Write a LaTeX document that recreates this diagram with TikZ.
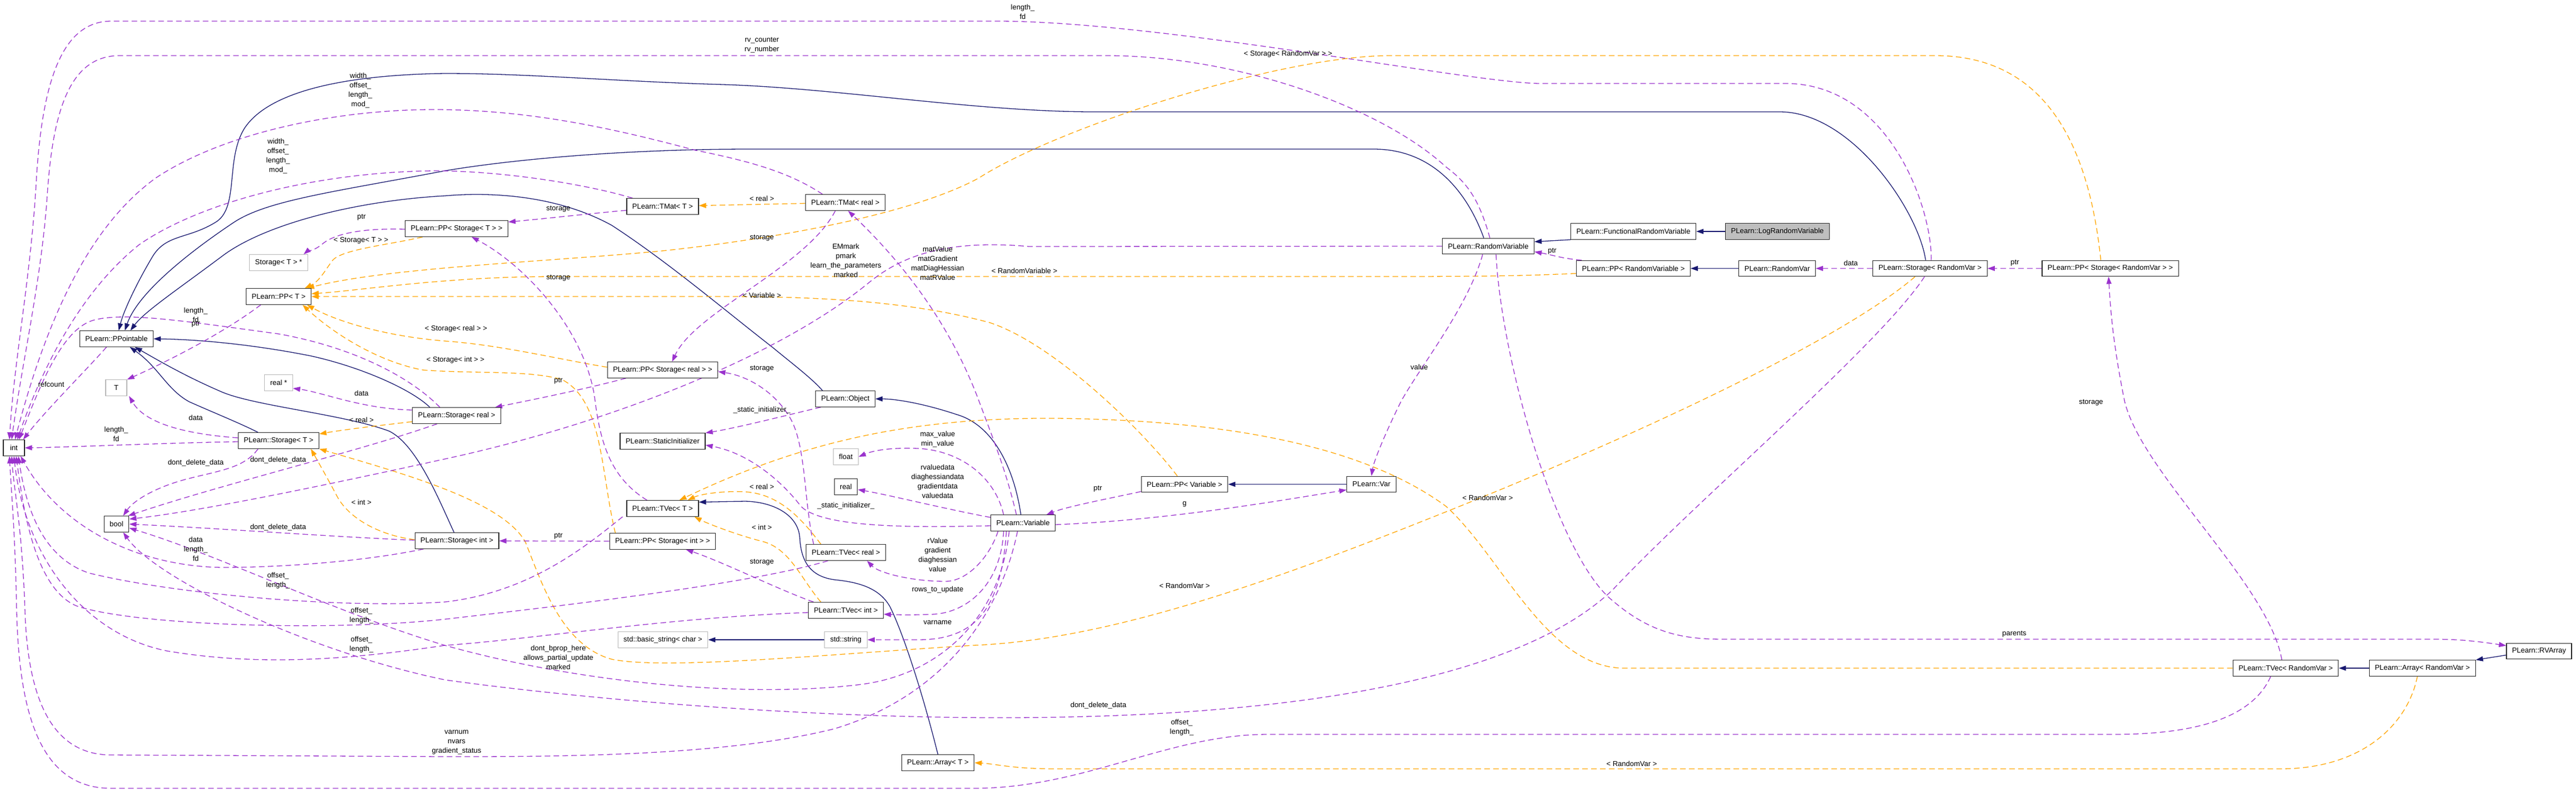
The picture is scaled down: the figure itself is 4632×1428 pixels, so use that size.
\documentclass[tikz,border=0pt]{standalone}
\usepackage{fontspec}
\newfontfamily\dotfont{Liberation Sans}
\usetikzlibrary{arrows.meta,backgrounds}
\definecolor{inhblue}{HTML}{191970}
\definecolor{usepurple}{HTML}{9A32CD}
\definecolor{tplorange}{HTML}{FFA500}
\tikzset{
  cls/.style={draw=black!85, line width=1.2pt, fill=white, minimum height=28.5pt, minimum width=38pt, inner xsep=10pt, inner ysep=2pt, font=\dotfont\fontsize{13}{16}\selectfont},
  undoc/.style={cls, draw=black!28},
  focus/.style={cls, fill=black!25},
  lbl/.style={font=\dotfont\fontsize{13}{17}\selectfont, align=center, inner sep=0pt},
  inherit/.style={draw=inhblue, line width=1.3pt, -{Triangle[length=13pt,width=9pt]}},
  usage/.style={draw=usepurple, line width=1.3pt, dash pattern=on 10pt off 6pt, -{Triangle[length=13pt,width=9pt]}},
  templ/.style={draw=tplorange, line width=1.3pt, dash pattern=on 10pt off 6pt, -{Triangle[length=13pt,width=9pt]}}
}
\begin{document}
\begin{tikzpicture}[x=1pt,y=-1pt]
\useasboundingbox (0,0) rectangle (4632,1428);

\node[cls] (int) at (25,805) {int};
\node[cls] (bool) at (209.5,942) {bool};
\node[cls] (ppointable) at (209.5,609) {PLearn::PPointable};
\node[undoc] (tT) at (209,697) {T};
\node[undoc] (storTp) at (501,472) {Storage< T > *};
\node[cls] (ppT) at (501,533) {PLearn::PP< T >};
\node[undoc] (realp) at (501,688) {real *};
\node[cls] (storT) at (501,792) {PLearn::Storage< T >};
\node[cls] (storReal) at (821,747) {PLearn::Storage< real >};
\node[cls] (storInt) at (821.5,972) {PLearn::Storage< int >};
\node[cls] (ppStorT) at (821,411) {PLearn::PP< Storage< T > >};
\node[cls] (tmatT) at (1191.5,371) {PLearn::TMat< T >};
\node[cls] (tmatReal) at (1520,364) {PLearn::TMat< real >};
\node[cls] (ppStorReal) at (1191.5,665) {PLearn::PP< Storage< real > >};
\node[cls] (object) at (1520,717) {PLearn::Object};
\node[cls] (statInit) at (1191.5,793) {PLearn::StaticInitializer};
\node[undoc] (float) at (1521,821) {float};
\node[cls] (real) at (1521,875) {real};
\node[cls] (tvecT) at (1191.5,914) {PLearn::TVec< T >};
\node[cls] (ppStorInt) at (1191.5,973) {PLearn::PP< Storage< int > >};
\node[cls] (tvecReal) at (1521,993) {PLearn::TVec< real >};
\node[cls] (tvecInt) at (1521,1097) {PLearn::TVec< int >};
\node[undoc] (basicStr) at (1192,1150) {std::basic\_string< char >};
\node[undoc] (stdStr) at (1521,1150) {std::string};
\node[cls] (arrayT) at (1686.5,1371) {PLearn::Array< T >};
\node[cls] (variable) at (1839.6,940) {PLearn::Variable};
\node[cls] (ppVariable) at (2130,870.5) {PLearn::PP< Variable >};
\node[cls] (var) at (2466,870.5) {PLearn::Var};
\node[cls] (randVariable) at (2676,442.5) {PLearn::RandomVariable};
\node[cls] (funcRV) at (2937,416) {PLearn::FunctionalRandomVariable};
\node[focus] (logRV) at (3196,416) {PLearn::LogRandomVariable};
\node[cls] (ppRV) at (2937,482.5) {PLearn::PP< RandomVariable >};
\node[cls] (randVar) at (3195.6,482.5) {PLearn::RandomVar};
\node[cls] (storRV) at (3470.5,482.5) {PLearn::Storage< RandomVar >};
\node[cls] (ppStorRV) at (3794.5,482.5) {PLearn::PP< Storage< RandomVar > >};
\node[cls] (rvArray) at (4565.5,1170.5) {PLearn::RVArray};
\node[cls] (tvecRV) at (4110,1201) {PLearn::TVec< RandomVar >};
\node[cls] (arrayRV) at (4355.7,1201) {PLearn::Array< RandomVar >};

\begin{pgfonlayer}{background}
\draw[inherit] (logRV) -- (funcRV);
\draw[inherit] (funcRV.south west) -- ([yshift=8pt]randVariable.east);
\draw[inherit] (randVar) -- (ppRV);
\draw[inherit] (var) -- (ppVariable);
\draw[inherit] (stdStr) -- (basicStr);
\draw[inherit] ([yshift=-7pt]rvArray.west) -- (arrayRV.north east);
\draw[inherit] (arrayRV) -- (tvecRV);
\draw[inherit] (arrayT.north) .. controls (1660,1250) and (1625,1140) .. (1600,1090)
	.. controls (1580,1055) and (1540,1046) .. (1500,1042)
	.. controls (1450,1035) and (1440,1000) .. (1438,966)
	.. controls (1435,925) and (1390,902) .. (1340,901) -- (tvecT.10);
\draw[inherit] ([xshift=-41pt]object.north) .. controls (1460,680) and (1420,650) .. (1390,625)
	.. controls (1300,555) and (1200,470) .. (1100,405)
	.. controls (1000,350) and (880,345) .. (800,352)
	.. controls (650,360) and (480,400) .. (400,460)
	.. controls (320,520) and (260,560) .. ([xshift=25pt]ppointable.north);
\draw[inherit] ([xshift=-8pt]randVariable.north) .. controls (2640,350) and (2580,268) .. (2470,268)
	-- (1350,268) .. controls (1100,268) and (900,290) .. (800,307)
	.. controls (600,345) and (480,360) .. (420,400)
	.. controls (360,440) and (250,520) .. ([xshift=15pt]ppointable.north);
\draw[inherit] ([xshift=-8pt]storRV.north) .. controls (3450,380) and (3330,201) .. (3200,201)
	-- (1960,201) .. controls (1750,200) and (1500,158) .. (1300,152)
	.. controls (1100,146) and (950,132) .. (800,132)
	.. controls (600,135) and (480,170) .. (440,230)
	.. controls (405,285) and (430,370) .. (390,398)
	.. controls (340,430) and (300,420) .. (275,460)
	.. controls (245,510) and (222,560) .. ([xshift=4pt]ppointable.north);
\draw[inherit] ([xshift=-48pt]storReal.north) .. controls (740,700) and (650,660) .. (560,640)
	.. controls (450,618) and (350,610) .. (ppointable.east);
\draw[inherit] ([xshift=-37pt]storT.north) .. controls (430,760) and (380,740) .. (340,722)
	.. controls (300,700) and (285,660) .. ([xshift=24pt]ppointable.south);
\draw[inherit] ([xshift=-5pt]storInt.north) .. controls (790,900) and (750,800) .. (700,775)
	.. controls (620,745) and (460,730) .. (400,705)
	.. controls (330,675) and (280,645) .. ([xshift=33pt]ppointable.south);
\draw[inherit] ([xshift=-4pt]variable.north) .. controls (1825,850) and (1790,765) .. (1720,745)
	.. controls (1660,725) and (1610,717) .. (object.east);

\draw[templ] (tmatReal) -- (tmatT);
\draw[templ] ([xshift=-17pt]ppStorRV.north) .. controls (3760,300) and (3700,100) .. (3480,100)
	-- (2500,100) .. controls (2300,100) and (1900,230) .. (1760,320)
	.. controls (1640,385) and (1400,428) .. (1200,450)
	.. controls (1000,470) and (700,480) .. ([xshift=-8pt]ppT.north east);
\draw[templ] ([xshift=-61pt]ppStorT.south) .. controls (700,440) and (615,448) .. (598,468)
	.. controls (585,485) and (575,505) .. ([xshift=-12pt]ppT.north east);
\draw[templ] ([yshift=-9pt]ppRV.west) .. controls (2720,497) and (2620,497) .. (2450,497)
	-- (1000,497) .. controls (800,497) and (650,522) .. ([yshift=5pt]ppT.east);
\draw[templ] ([xshift=-13pt]ppVariable.north) .. controls (2060,780) and (1900,620) .. (1780,580)
	.. controls (1650,545) and (1500,533) .. (1300,533) -- (ppT.east);
\draw[templ] ([yshift=5pt]ppStorReal.west) .. controls (1000,645) and (900,620) .. (800,613)
	.. controls (700,605) and (610,580) .. ([xshift=-8pt]ppT.south east);
\draw[templ] ([xshift=-85pt]ppStorInt.north) .. controls (1080,850) and (1085,720) .. (1010,682)
	.. controls (950,665) and (850,672) .. (760,665)
	.. controls (680,650) and (600,600) .. ([xshift=-16pt]ppT.south east);
\draw[templ] ([xshift=-45pt]tvecReal.north) .. controls (1440,930) and (1400,888) .. (1340,884)
	.. controls (1300,882) and (1260,888) .. ([xshift=45pt]tvecT.north);
\draw[templ] ([xshift=-45pt]tvecInt.north) .. controls (1440,1040) and (1420,985) .. (1370,973)
	.. controls (1320,960) and (1270,940) .. ([xshift=-8pt]tvecT.south east);
\draw[templ] (tvecRV.west) -- (2920,1201) .. controls (2780,1200) and (2700,1000) .. (2600,910)
	.. controls (2450,800) and (2200,755) .. (1900,752)
	.. controls (1650,750) and (1450,790) .. ([xshift=30pt]tvecT.north);
\draw[templ] ([xshift=-27pt]storRV.south) .. controls (3300,620) and (2900,800) .. (2600,920)
	.. controls (2300,1040) and (2000,1150) .. (1750,1160)
	.. controls (1500,1175) and (1200,1205) .. (1100,1185)
	.. controls (1010,1160) and (975,1050) .. (945,975)
	.. controls (905,900) and (720,850) .. (storT.south east);
\draw[templ] ([yshift=-11pt]storReal.west) .. controls (680,765) and (620,772) .. ([yshift=12pt]storT.east);
\draw[templ] ([yshift=2pt]storInt.west) .. controls (680,962) and (625,930) .. (605,890)
	.. controls (588,858) and (572,830) .. ([xshift=58pt]storT.south);
\draw[templ] ([xshift=-9pt]arrayRV.south) .. controls (4330,1300) and (4250,1382) .. (4100,1382)
	-- (1900,1382) .. controls (1820,1382) and (1790,1373) .. (arrayT.east);

\draw[usage] ([xshift=2pt]storRV.north) .. controls (3475,380) and (3400,150) .. (3210,150)
	-- (2770,150) .. controls (2650,150) and (2100,40) .. (1800,38)
	-- (200,38) .. controls (110,38) and (75,150) .. (65,330)
	.. controls (55,500) and (25,650) .. ([xshift=-8pt]int.north);
\draw[usage] ([xshift=3pt]randVariable.north) .. controls (2660,360) and (2640,330) .. (2600,300)
	.. controls (2480,190) and (2220,100) .. (1990,100)
	-- (215,100) .. controls (125,100) and (95,200) .. (85,350)
	.. controls (75,500) and (40,650) .. ([xshift=-4pt]int.north);
\draw[usage] ([xshift=-41pt]tmatReal.north) .. controls (1420,310) and (1350,290) .. (1250,270)
	.. controls (1100,230) and (950,197) .. (780,197)
	.. controls (600,197) and (400,240) .. (280,320)
	.. controls (170,400) and (90,550) .. ([xshift=2pt]int.north);
\draw[usage] ([xshift=-54pt]tmatT.north) .. controls (1050,330) and (900,307) .. (780,307)
	.. controls (550,310) and (350,370) .. (250,440)
	.. controls (150,520) and (80,650) .. ([xshift=6pt]int.north);
\draw[usage] ([xshift=-30pt]storReal.north) .. controls (740,680) and (640,625) .. (500,600)
	.. controls (350,580) and (230,560) .. (170,575)
	.. controls (110,590) and (70,700) .. ([xshift=9pt]int.north);
\draw[usage] ([xshift=-18pt]ppointable.south) .. controls (160,660) and (80,740) .. ([xshift=-3pt]int.north east);
\draw[usage] ([yshift=-2pt]storT.west) .. controls (300,796) and (120,804) .. (int.east);
\draw[usage] ([xshift=-60pt]storInt.south) .. controls (650,1010) and (500,1020) .. (400,1020)
	.. controls (250,1018) and (110,950) .. ([xshift=12pt]int.south);
\draw[usage] ([xshift=-72pt]tvecT.south) .. controls (1050,985) and (950,1065) .. (800,1082)
	.. controls (600,1095) and (300,1065) .. (160,1030)
	.. controls (70,1000) and (45,900) .. ([xshift=8pt]int.south);
\draw[usage] ([xshift=-32pt]tvecReal.south) .. controls (1350,1050) and (1000,1090) .. (800,1113)
	.. controls (600,1135) and (250,1125) .. (140,1090)
	.. controls (60,1060) and (40,900) .. ([xshift=4pt]int.south);
\draw[usage] ([yshift=-4pt]tvecInt.west) .. controls (1200,1110) and (950,1150) .. (800,1160)
	.. controls (600,1190) and (450,1195) .. (300,1170)
	.. controls (150,1140) and (45,1000) .. (int.south);
\draw[usage] ([xshift=-10pt]variable.south) .. controls (1800,1100) and (1700,1250) .. (1500,1310)
	.. controls (1300,1360) and (1000,1360) .. (800,1360)
	-- (200,1357) .. controls (90,1357) and (50,1250) .. (45,1100)
	.. controls (40,950) and (25,880) .. ([xshift=-4pt]int.south);
\draw[usage] ([xshift=-27pt]tvecRV.south) .. controls (4050,1290) and (3950,1320) .. (3800,1320)
	-- (2280,1320) .. controls (2100,1320) and (1950,1417) .. (1750,1417)
	-- (200,1417) .. controls (80,1417) and (35,1300) .. (30,1100)
	.. controls (27,950) and (20,880) .. ([xshift=-8pt]int.south);

\draw[usage] ([xshift=-37pt]storT.south) .. controls (440,840) and (400,845) .. (340,860)
	.. controls (280,875) and (240,900) .. ([xshift=12pt]bool.north);
\draw[usage] ([xshift=-35pt]storReal.south) .. controls (650,810) and (400,870) .. ([xshift=-2pt]bool.north east);
\draw[usage] (randVariable.west) -- (1850,443) .. controls (1700,430) and (1620,460) .. (1560,510)
	.. controls (1400,640) and (1100,760) .. (800,825)
	.. controls (550,880) and (350,920) .. ([yshift=9pt]bool.east);
\draw[usage] ([yshift=1pt]storInt.west) .. controls (600,965) and (400,950) .. (bool.east);
\draw[usage] ([xshift=-25pt]variable.south) .. controls (1800,1100) and (1700,1210) .. (1550,1230)
	.. controls (1350,1255) and (1050,1230) .. (800,1160)
	.. controls (600,1100) and (400,1000) .. ([yshift=-7pt]bool.east);
\draw[usage] ([xshift=-10pt]storRV.south) .. controls (3380,620) and (3050,900) .. (2900,1060)
	.. controls (2700,1250) and (2200,1290) .. (1800,1290)
	.. controls (1400,1290) and (1000,1250) .. (800,1222)
	.. controls (550,1170) and (280,1040) .. ([xshift=12pt]bool.south);

\draw[usage] ([yshift=-1pt]ppStorT.west) .. controls (650,410) and (600,420) .. (578,440)
	.. controls (562,452) and (552,452) .. ([xshift=45pt]storTp.north);
\draw[usage] ([yshift=-7pt]tmatT.west) .. controls (1050,385) and (980,393) .. ([yshift=12pt]ppStorT.east);
\draw[usage] ([xshift=-18pt]tmatReal.south) .. controls (1450,480) and (1250,560) .. ([xshift=17pt]ppStorReal.north);
\draw[usage] ([xshift=-28pt]tvecT.north) .. controls (1100,860) and (1080,800) .. (1070,720)
	.. controls (1055,600) and (950,480) .. ([xshift=27pt]ppStorT.south);
\draw[usage] ([xshift=-66pt]ppStorReal.south) .. controls (1050,700) and (950,720) .. ([xshift=69pt]storReal.north);
\draw[usage] ([xshift=-58pt]tvecReal.north) .. controls (1445,900) and (1450,800) .. (1420,750)
	.. controls (1390,700) and (1340,675) .. ([yshift=-3pt]ppStorReal.east);
\draw[usage] (ppStorInt) -- (storInt);
\draw[usage] ([xshift=-58pt]tvecInt.north) .. controls (1400,1060) and (1300,1010) .. ([xshift=42pt]ppStorInt.south);
\draw[usage] ([yshift=10pt]storReal.west) .. controls (650,735) and (580,705) .. ([yshift=-10pt]realp.east);
\draw[usage] ([yshift=5pt]storT.west) .. controls (330,780) and (260,760) .. ([xshift=23pt]tT.south);
\draw[usage] ([xshift=-32pt]ppT.south) .. controls (400,600) and (300,650) .. (tT.north east);
\draw[usage] ([xshift=-44pt]object.south) .. controls (1400,750) and (1320,770) .. (statInit.north east);
\draw[usage] ([yshift=-5pt]variable.west) .. controls (1650,948) and (1480,950) .. (1440,910)
	.. controls (1410,870) and (1350,815) .. ([yshift=-7pt]statInit.east);
\draw[usage] ([xshift=-35pt]variable.north) .. controls (1790,860) and (1730,810) .. (1650,806)
	.. controls (1600,804) and (1570,810) .. (float.east);
\draw[usage] ([yshift=10pt]variable.west) .. controls (1700,915) and (1600,890) .. ([yshift=-5pt]real.east);
\draw[usage] ([xshift=-45pt]variable.south) .. controls (1780,1000) and (1740,1045) .. (1700,1045)
	.. controls (1640,1045) and (1580,1030) .. ([xshift=38pt]tvecReal.south);
\draw[usage] ([xshift=-35pt]variable.south) .. controls (1800,1050) and (1740,1100) .. (1680,1104)
	.. controls (1640,1106) and (1610,1105) .. ([yshift=-7pt]tvecInt.east);
\draw[usage] ([xshift=-30pt]variable.south) .. controls (1800,1100) and (1750,1150) .. (1650,1150) -- (stdStr.east);
\draw[usage] ([yshift=-3pt]variable.east) .. controls (2100,935) and (2300,900) .. ([yshift=-10pt]var.west);
\draw[usage] ([yshift=-13pt]ppVariable.west) .. controls (2000,895) and (1920,910) .. ([xshift=42pt]variable.north);
\draw[usage] ([xshift=-10pt]randVariable.south) .. controls (2640,550) and (2560,650) .. (2520,720)
	.. controls (2490,780) and (2470,830) .. (var.north);
\draw[usage] ([xshift=14pt]randVariable.south) .. controls (2700,650) and (2800,1000) .. (2900,1080)
	.. controls (2970,1140) and (3030,1149) .. (3100,1149)
	-- (4380,1149) .. controls (4430,1149) and (4470,1155) .. ([yshift=10pt]rvArray.west);
\draw[usage] ([xshift=-93pt]ppRV.north) .. controls (2810,465) and (2790,458) .. ([yshift=-10pt]randVariable.east);
\draw[usage] (storRV) -- (randVar);
\draw[usage] (ppStorRV) -- (storRV);
\draw[usage] ([xshift=-7pt]tvecRV.north) .. controls (4080,1050) and (3850,850) .. (3820,720)
	.. controls (3800,620) and (3795,560) .. ([xshift=-3pt]ppStorRV.south);
\draw[usage] ([xshift=-12pt]variable.north) .. controls (1810,850) and (1790,800) .. (1760,720)
	.. controls (1700,560) and (1600,450) .. ([xshift=5pt]tmatReal.south);
\end{pgfonlayer}

\node[lbl] (lLenFdRV) at (1839,21.5) {length\_\\fd};
\node[lbl] (lRvCount) at (1370,81.5) {rv\_counter\\rv\_number};
\node[lbl] (lStorRVtpl) at (2316,97) {< Storage< RandomVar > >};
\node[lbl] (lTmatRealInt) at (648,162.5) {width\_\\offset\_\\length\_\\mod\_};
\node[lbl] (lTmatTInt) at (500,281) {width\_\\offset\_\\length\_\\mod\_};
\node[lbl] (lPtrStorTp) at (650,391) {ptr};
\node[lbl] (lStorTtpl) at (649,432) {< Storage< T > >};
\node[lbl] (lStorageTmatT) at (1004,376) {storage};
\node[lbl] (lRealTmat) at (1370,357) {< real >};
\node[lbl] (lStorageTmatReal) at (1370,428) {storage};
\node[lbl] (lEMmark) at (1521,468) {EMmark\\pmark\\learn\_the\_parameters\\marked};
\node[lbl] (lMatValue) at (1686,473) {matValue\\matGradient\\matDiagHessian\\matRValue};
\node[lbl] (lRandVarTpl) at (1842,487) {< RandomVariable >};
\node[lbl] (lStorageTvecT) at (1004,500) {storage};
\node[lbl] (lVariableTpl) at (1370,531) {< Variable >};
\node[lbl] (lLenFdReal) at (352,566) {length\_\\fd};
\node[lbl] (lPtrT) at (352,583) {ptr};
\node[lbl] (lStorRealTpl) at (820,591) {< Storage< real > >};
\node[lbl] (lStorIntTpl) at (819,647) {< Storage< int > >};
\node[lbl] (lRefcount) at (92,691) {refcount};
\node[lbl] (lDataRealp) at (650,707) {data};
\node[lbl] (lPtrStorReal) at (1004,685) {ptr};
\node[lbl] (lStorageTvecReal) at (1370,663) {storage};
\node[lbl] (lStatInitObj) at (1370,737) {\_static\_initializer\_};
\node[lbl] (lDataT) at (352,751) {data};
\node[lbl] (lRealStor) at (650,755) {< real >};
\node[lbl] (lLenFdT) at (209,780) {length\_\\fd};
\node[lbl] (lDontT) at (352,832) {dont\_delete\_data};
\node[lbl] (lDontReal) at (500,827) {dont\_delete\_data};
\node[lbl] (lIntStor) at (650,903) {< int >};
\node[lbl] (lDontInt) at (500,948) {dont\_delete\_data};
\node[lbl] (lDataInt) at (352,987) {data\\length\_\\fd};
\node[lbl] (lOffTvecT) at (500,1044) {offset\_\\length\_};
\node[lbl] (lOffTvecReal) at (650,1107) {offset\_\\length\_};
\node[lbl] (lOffTvecInt) at (650,1159) {offset\_\\length\_};
\node[lbl] (lVarnum) at (821,1334) {varnum\\nvars\\gradient\_status};
\node[lbl] (lBprop) at (1004,1182) {dont\_bprop\_here\\allows\_partial\_update\\marked};
\node[lbl] (lRealTvec) at (1370,875) {< real >};
\node[lbl] (lIntTvec) at (1370,948) {< int >};
\node[lbl] (lStorageTvecInt) at (1370,1011) {storage};
\node[lbl] (lPtrStorInt) at (1004,964) {ptr};
\node[lbl] (lMaxMin) at (1686,790) {max\_value\\min\_value};
\node[lbl] (lValueData) at (1686,865) {rvaluedata\\diaghessiandata\\gradientdata\\valuedata};
\node[lbl] (lStatInitVar) at (1521,909) {\_static\_initializer\_};
\node[lbl] (lRValue) at (1686,997) {rValue\\gradient\\diaghessian\\value};
\node[lbl] (lRows) at (1686,1060) {rows\_to\_update};
\node[lbl] (lVarname) at (1686,1119) {varname};
\node[lbl] (lPtrVariable) at (1974,879) {ptr};
\node[lbl] (lG) at (2130,906) {g};
\node[lbl] (lValue) at (2552,660) {value};
\node[lbl] (lRVTvec) at (2675,895) {< RandomVar >};
\node[lbl] (lRVStor) at (2130,1053) {< RandomVar >};
\node[lbl] (lPtrRV) at (2791,452) {ptr};
\node[lbl] (lDataRV) at (3328,473) {data};
\node[lbl] (lPtrStorRV) at (3623,473) {ptr};
\node[lbl] (lStorageTvecRV) at (3760,724) {storage};
\node[lbl] (lParents) at (3622,1140) {parents};
\node[lbl] (lDontRV) at (1975,1268) {dont\_delete\_data};
\node[lbl] (lOffTvecRV) at (2125,1308) {offset\_\\length\_};
\node[lbl] (lRVArray) at (2934,1373) {< RandomVar >};
\end{tikzpicture}
\end{document}
